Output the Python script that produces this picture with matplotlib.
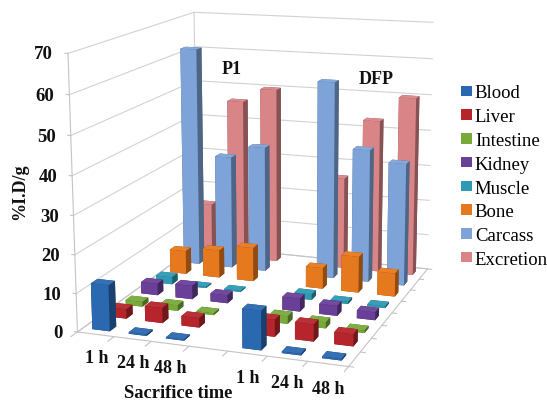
import numpy as np
import matplotlib
matplotlib.use('Agg')
import matplotlib.pyplot as plt
from matplotlib.patches import Patch
from matplotlib.colors import to_rgb
from mpl_toolkits.mplot3d import Axes3D, proj3d  # noqa

plt.rcParams['font.family'] = ['Liberation Serif', 'DejaVu Serif']

W, H = 547, 402

time_labels = ['1 h', '24 h', '48 h', '', '1 h', '24 h', '48 h']
series_names = ['Blood', 'Liver', 'Intestine', 'Kidney', 'Muscle', 'Bone', 'Carcass', 'Excretion']
series_colors = ['#2a68b0', '#b5252b', '#78aa3a', '#6a3f98', '#2f9ab4', '#e6791d', '#7ea3d8', '#d98487']
# values per slot: P1 1h,24h,48h, (gap), DFP 1h,24h,48h
Blood = [12, 0.4, 0.3, None, 10, 0.4, 0.4]
Liver = [2.5, 4, 2.5, None, 4.4, 4.4, 3.1]
Intestine = [1.3, 1.5, 0.5, None, 2, 1.6, 0.6]
Kidney = [3.2, 3.7, 2.2, None, 3.5, 2.7, 2.1]
Muscle = [2, 0.3, 0.3, None, 1.5, 0.6, 0.5]
Bone = [6.6, 7.8, 9.5, None, 5.8, 10, 6.4]
Carcass = [62, 32, 35.5, None, 55, 37, 34]
Excretion = [15, 46, 50, None, 26, 43, 50]
all_series = [Blood, Liver, Intestine, Kidney, Muscle, Bone, Carcass, Excretion]
z_ticks = [0, 10, 20, 30, 40, 50, 60, 70]

# camera calibration: axis-box corners -> reference pixels (DLT)
world = np.array([[0, 0, 0], [7, 0, 0], [7, 8, 0], [0, 8, 0], [0, 0, 70], [0, 8, 70], [7, 8, 70]], float)
pix = np.array([[78, 332], [348, 369], [428, 268], [197, 248], [68, 54], [194, 13], [433, 24]], float)
A, b = [], []
for (X, Y, Z), (u, v) in zip(world, pix):
    A.append([X, Y, Z, 1, 0, 0, 0, 0, -u*X, -u*Y, -u*Z]); b.append(u)
    A.append([0, 0, 0, 0, X, Y, Z, 1, -v*X, -v*Y, -v*Z]); b.append(v)
p = np.linalg.lstsq(np.array(A), np.array(b), rcond=None)[0]
P = np.append(p, 1).reshape(3, 4)
# pixels -> [-1, 1] view box, square axes W x W anchored at the top of the figure
N = np.array([[2/W, 0, -1], [0, -2/W, 1], [0, 0, 1]])
Q = N @ P
M = np.array([Q[0], Q[1], [0, 0, 0, -1.0], Q[2]])

fig = plt.figure(figsize=(W/100, H/100), dpi=100, facecolor='white')
ax = fig.add_axes([0, (H-W)/H, 1, W/H], projection='3d', computed_zorder=False)
ax.set_axis_off()
ax.patch.set_visible(False)
ax.viewLim.intervalx = (-1, 1)
ax.viewLim.intervaly = (-1, 1)
ax.get_proj = lambda: M


def label3d(x, y, z, s, **kw):
    px, py, _ = proj3d.proj_transform(x, y, z, M)
    ax.text2D(px, py, s, transform=ax.transData, fontweight='bold', color='#111111', zorder=500, **kw)


grid = '#d2d2d2'
edge = '#c4c4c4'
nx, ny = len(time_labels), len(series_names)
for z in z_ticks:
    ax.plot([0, 0, nx], [0, ny, ny], [z, z, z], color=grid, lw=0.8, zorder=1)
    ax.plot([-0.08, 0], [0, 0], [z, z], color=edge, lw=0.8, zorder=1)
    label3d(-0.32, -0.17, z, str(z), ha='right', va='center', fontsize=13.5)
ax.plot([0, 0], [0, 0], [0, 70], color=edge, lw=0.8, zorder=1)
ax.plot([0, 0], [ny, ny], [0, 70], color=grid, lw=0.8, zorder=1)
ax.plot([0, nx, nx, 0, 0], [0, 0, ny, ny, 0], [0]*5, color=edge, lw=0.8, zorder=1)
for i in range(nx + 1):
    ax.plot([i, i], [0, -0.35], [0, 0], color=edge, lw=0.8, zorder=1)
for j in range(ny + 1):
    ax.plot([nx, nx + 0.12], [j, j], [0, 0], color=edge, lw=0.8, zorder=1)
for i, lab in enumerate(time_labels):
    if lab:
        label3d(i + 0.5, 0, -6, lab, ha='center', va='center', fontsize=13)

bw, bd = 0.48, 0.38


def shade(c, f):
    r = np.array(to_rgb(c))
    return tuple(np.clip(r*f if f <= 1 else r + (1-r)*(f-1), 0, 1))


order = 10
for j in range(ny - 1, -1, -1):
    for i in range(nx):
        v = all_series[j][i]
        if v is None:
            continue
        c = series_colors[j]
        faces = [shade(c, .6), shade(c, 1.05), shade(c, 1.0), shade(c, .62), shade(c, .62), shade(c, .62)]
        ax.bar3d(i + .5 - bw/2, j + .5 - bd/2, 0, bw, bd, v, color=faces, shade=False,
                 edgecolor=None, linewidth=0, zorder=order)
        order += 1

fig.text(232/W, 1 - 70/H, 'P1', ha='center', va='center', fontsize=13, fontweight='bold', color='#111111')
fig.text(376/W, 1 - 80/H, 'DFP', ha='center', va='center', fontsize=13, fontweight='bold', color='#111111')
fig.text(178/W, 1 - 393.5/H, 'Sacrifice time', ha='center', va='center', fontsize=13.3, fontweight='bold', color='#111111')
fig.text(20/W, 1 - 192/H, '%I.D/g', rotation=90, ha='center', va='center', fontsize=13, fontweight='bold', color='#111111')

handles = [Patch(facecolor=c, edgecolor='none', label=n) for c, n in zip(series_colors, series_names)]
fig.legend(handles=handles, loc='upper left', bbox_to_anchor=(461/W, 1 - 85.5/H), borderaxespad=0, borderpad=0,
           frameon=False, fontsize=13.5, handlelength=0.58, handleheight=0.5, handletextpad=0.16, labelspacing=0.36)

fig.savefig('out.png', dpi=100)
